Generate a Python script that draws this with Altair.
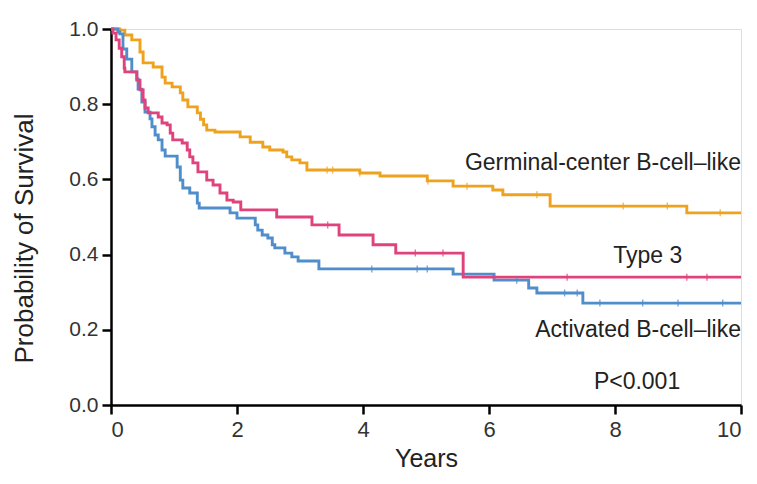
import altair as alt
import pandas as pd

# ---- data ----
gcb_t = [0, 0.14, 0.22, 0.33, 0.46, 0.51, 0.67, 0.81, 0.86, 0.97, 1.10, 1.14, 1.22, 1.37, 1.42, 1.47,
         1.52, 1.65, 2.05, 2.21, 2.41, 2.52, 2.73, 2.79, 2.87, 3.00, 3.11, 3.95, 4.27, 5.02, 5.43,
         6.06, 6.22, 6.97, 9.14]
gcb_s = [1.0, 0.997, 0.984, 0.971, 0.939, 0.910, 0.899, 0.872, 0.856, 0.846, 0.830, 0.811, 0.793,
         0.777, 0.760, 0.745, 0.731, 0.726, 0.713, 0.699, 0.686, 0.678, 0.673, 0.660, 0.652, 0.644,
         0.625, 0.617, 0.609, 0.596, 0.582, 0.572, 0.559, 0.529, 0.511]
gcb_cens = [3.43, 3.52, 3.95, 5.03, 5.65, 6.76, 8.13, 8.83, 9.67]

t3_t = [0, 0.03, 0.08, 0.13, 0.17, 0.21, 0.22, 0.41, 0.46, 0.51, 0.54, 0.59, 0.75, 0.81, 0.89, 0.94,
        0.98, 1.13, 1.21, 1.25, 1.30, 1.38, 1.52, 1.62, 1.73, 1.84, 1.94, 2.06, 2.63, 3.19, 3.62,
        4.16, 4.52, 5.59]
t3_s = [1.0, 0.989, 0.971, 0.949, 0.926, 0.896, 0.886, 0.864, 0.838, 0.811, 0.790, 0.777, 0.766,
        0.750, 0.745, 0.723, 0.705, 0.697, 0.678, 0.660, 0.644, 0.620, 0.598, 0.585, 0.564, 0.545,
        0.540, 0.519, 0.500, 0.479, 0.452, 0.426, 0.404, 0.340]
t3_cens = [3.44, 4.83, 5.27, 7.24, 9.14, 9.46]

abc_t = [0, 0.11, 0.14, 0.19, 0.25, 0.33, 0.41, 0.43, 0.49, 0.54, 0.62, 0.65, 0.70, 0.75, 0.81, 0.86,
         1.05, 1.10, 1.14, 1.25, 1.37, 1.40, 1.89, 2.00, 2.29, 2.33, 2.40, 2.49, 2.56, 2.60, 2.76,
         2.87, 2.97, 3.30, 5.43, 6.08, 6.63, 6.76, 7.49]
abc_s = [1.0, 0.992, 0.987, 0.947, 0.920, 0.886, 0.867, 0.840, 0.806, 0.779, 0.761, 0.740, 0.718,
         0.705, 0.678, 0.662, 0.633, 0.598, 0.577, 0.564, 0.537, 0.524, 0.511, 0.497, 0.479, 0.465,
         0.452, 0.444, 0.426, 0.418, 0.404, 0.394, 0.383, 0.362, 0.348, 0.332, 0.311, 0.298, 0.271]
abc_cens = [4.14, 4.86, 5.02, 6.44, 7.20, 7.40, 7.76, 8.44, 9.00, 9.71]

groups = ["Germinal-center B-cell\u2013like", "Type 3", "Activated B-cell\u2013like"]
colors = ["#EFA21E", "#E0427B", "#4F8DCB"]
t_end = 10

series = [(groups[0], gcb_t, gcb_s, gcb_cens),
          (groups[2], abc_t, abc_s, abc_cens),
          (groups[1], t3_t, t3_s, t3_cens)]

line_rows, tick_rows = [], []
for order, (g, ts, ss, cs_) in enumerate(series):
    for t, s in zip(ts, ss):
        line_rows.append({"group": g, "t": t, "s": s, "o": order})
    line_rows.append({"group": g, "t": t_end, "s": ss[-1], "o": order})
    for c in cs_:
        val = [s for t, s in zip(ts, ss) if t <= c][-1]
        tick_rows.append({"group": g, "t": c, "s": val})

lines_df = pd.DataFrame(line_rows)
ticks_df = pd.DataFrame(tick_rows)

right_labels_df = pd.DataFrame([
    {"txt": groups[0], "t": 10.0, "s": 0.644},
    {"txt": groups[2], "t": 10.0, "s": 0.200},
])
center_labels_df = pd.DataFrame([
    {"txt": groups[1], "t": 8.52, "s": 0.396},
    {"txt": "P<0.001", "t": 8.35, "s": 0.061},
])

FONT = "Liberation Sans"
xs = alt.Scale(domain=[0, 10], nice=False)
ys = alt.Scale(domain=[0, 1], nice=False)
cs = alt.Scale(domain=groups, range=colors)

x_axis = alt.Axis(title="Years", values=[0, 2, 4, 6, 8, 10], format="d", grid=False,
                  domainColor="black", domainWidth=2.5, tickColor="black", tickWidth=2.5,
                  tickSize=9, labelFontSize=22, labelColor="#333333", labelPadding=5,
                  titleFontSize=25, titleFontWeight="normal", titleColor="#222222",
                  titlePadding=6, labelFont=FONT, titleFont=FONT)
y_axis = alt.Axis(title="Probability of Survival", values=[0, 0.2, 0.4, 0.6, 0.8, 1.0], format=".1f",
                  grid=False, domainColor="black", domainWidth=2.5, tickColor="black", tickWidth=2.5,
                  tickSize=9, labelFontSize=21, labelColor="#333333", labelPadding=4,
                  titleFontSize=26, titleFontWeight="normal", titleColor="#222222",
                  titleX=-74, titleY=209, labelFont=FONT, titleFont=FONT)

lines = alt.Chart(lines_df).mark_line(interpolate="step-after", strokeWidth=2.9).encode(
    x=alt.X("t:Q", scale=xs, axis=x_axis),
    y=alt.Y("s:Q", scale=ys, axis=y_axis),
    color=alt.Color("group:N", scale=cs, legend=None),
    detail="group:N",
    order="o:Q",
)

ticks = alt.Chart(ticks_df).mark_tick(orient="vertical", size=7, thickness=1.3, opacity=0.8).encode(
    x=alt.X("t:Q", scale=xs),
    y=alt.Y("s:Q", scale=ys),
    color=alt.Color("group:N", scale=cs, legend=None),
)

lab_right = alt.Chart(right_labels_df).mark_text(
    fontSize=23, font=FONT, color="#222222", baseline="middle", align="right").encode(
    x=alt.X("t:Q", scale=xs), y=alt.Y("s:Q", scale=ys), text="txt:N")
lab_center = alt.Chart(center_labels_df).mark_text(
    fontSize=23, font=FONT, color="#222222", baseline="middle", align="center").encode(
    x=alt.X("t:Q", scale=xs), y=alt.Y("s:Q", scale=ys), text="txt:N")

chart = alt.layer(lines, ticks, lab_right, lab_center).properties(
    width=630, height=376, autosize="none",
    padding={"left": 103, "top": 21, "right": 8, "bottom": 71},
).configure_view(stroke=None).configure(background="white")

chart.save("out.html", embed_options={"renderer": "svg", "actions": False})
